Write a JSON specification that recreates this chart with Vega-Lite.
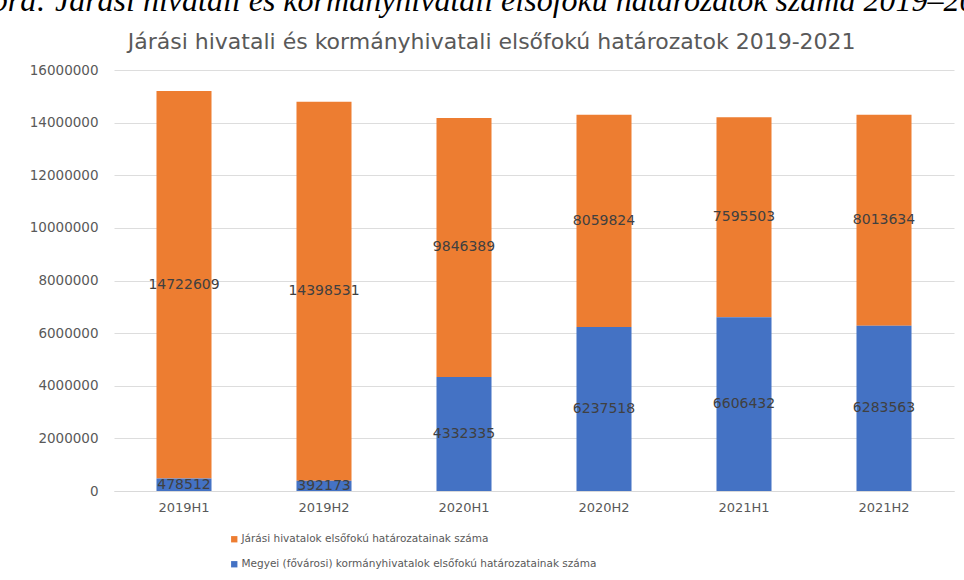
{
  "$schema": "https://vega.github.io/schema/vega-lite/v6.json",
  "width": 840,
  "height": 421,
  "autosize": {"type": "none"},
  "padding": {"left": 114, "top": 70, "right": 10, "bottom": 89},
  "background": "white",
  "config": {"view": {"stroke": null}},
  "title": {
    "text": "ábra: Járási hivatali és kormányhivatali elsőfokú határozatok száma 2019–2021",
    "subtitle": "Járási hivatali és kormányhivatali elsőfokú határozatok 2019-2021",
    "anchor": "middle",
    "frame": "bounds",
    "font": "Liberation Serif",
    "fontStyle": "italic",
    "fontWeight": "normal",
    "fontSize": 32,
    "color": "#000000",
    "subtitleFont": "DejaVu Sans",
    "subtitleFontSize": 22,
    "subtitleColor": "#595959",
    "subtitlePadding": 14,
    "offset": 9
  },
  "data": {
    "values": [
      {"period": "2019H1", "series": "Járási hivatalok elsőfokú határozatainak száma", "value": 14722609},
      {"period": "2019H1", "series": "Megyei (fővárosi) kormányhivatalok elsőfokú határozatainak száma", "value": 478512},
      {"period": "2019H2", "series": "Járási hivatalok elsőfokú határozatainak száma", "value": 14398531},
      {"period": "2019H2", "series": "Megyei (fővárosi) kormányhivatalok elsőfokú határozatainak száma", "value": 392173},
      {"period": "2020H1", "series": "Járási hivatalok elsőfokú határozatainak száma", "value": 9846389},
      {"period": "2020H1", "series": "Megyei (fővárosi) kormányhivatalok elsőfokú határozatainak száma", "value": 4332335},
      {"period": "2020H2", "series": "Járási hivatalok elsőfokú határozatainak száma", "value": 8059824},
      {"period": "2020H2", "series": "Megyei (fővárosi) kormányhivatalok elsőfokú határozatainak száma", "value": 6237518},
      {"period": "2021H1", "series": "Járási hivatalok elsőfokú határozatainak száma", "value": 7595503},
      {"period": "2021H1", "series": "Megyei (fővárosi) kormányhivatalok elsőfokú határozatainak száma", "value": 6606432},
      {"period": "2021H2", "series": "Járási hivatalok elsőfokú határozatainak száma", "value": 8013634},
      {"period": "2021H2", "series": "Megyei (fővárosi) kormányhivatalok elsőfokú határozatainak száma", "value": 6283563}
    ]
  },
  "encoding": {
    "x": {
      "field": "period",
      "type": "nominal",
      "sort": null,
      "scale": {"paddingInner": 0.607, "paddingOuter": 0.3035},
      "axis": {
        "title": null,
        "labelAngle": 0,
        "ticks": false,
        "domainColor": "#D9D9D9",
        "labelColor": "#595959",
        "labelFont": "DejaVu Sans",
        "labelFontSize": 13,
        "labelPadding": 10
      }
    }
  },
  "layer": [
    {
      "mark": {"type": "bar"},
      "encoding": {
        "y": {
          "field": "value",
          "type": "quantitative",
          "stack": "zero",
          "scale": {"domain": [0, 16000000], "nice": false},
          "axis": {
            "title": null,
            "values": [0, 2000000, 4000000, 6000000, 8000000, 10000000, 12000000, 14000000, 16000000],
            "format": "d",
            "ticks": false,
            "domain": false,
            "labelOverlap": false,
            "gridColor": "#DDDDDD",
            "labelColor": "#595959",
            "labelFont": "DejaVu Sans",
            "labelFontSize": 13.5,
            "labelPadding": 16
          }
        },
        "color": {
          "field": "series",
          "type": "nominal",
          "scale": {
            "domain": ["Járási hivatalok elsőfokú határozatainak száma", "Megyei (fővárosi) kormányhivatalok elsőfokú határozatainak száma"],
            "range": ["#ED7D31", "#4472C4"]
          },
          "legend": {
            "title": null,
            "orient": "none",
            "legendX": 115,
            "legendY": 464,
            "direction": "vertical",
            "symbolType": "square",
            "symbolSize": 40,
            "symbolStrokeWidth": 0,
            "labelFont": "DejaVu Sans",
            "labelFontSize": 10.5,
            "labelColor": "#595959",
            "labelOffset": 2,
            "rowPadding": 14,
            "padding": 0,
            "labelLimit": 600
          }
        },
        "order": {"field": "series", "sort": "descending"}
      }
    },
    {
      "transform": [
        {
          "window": [{"op": "sum", "field": "value", "as": "cum"}],
          "groupby": ["period"],
          "sort": [{"field": "series", "order": "descending"}],
          "frame": [null, 0]
        },
        {"calculate": "datum.cum - datum.value / 2", "as": "mid"}
      ],
      "mark": {"type": "text", "font": "DejaVu Sans", "fontSize": 14, "color": "#404040"},
      "encoding": {
        "y": {
          "field": "mid",
          "type": "quantitative",
          "axis": {
            "title": null,
            "values": [0, 2000000, 4000000, 6000000, 8000000, 10000000, 12000000, 14000000, 16000000],
            "format": "d",
            "ticks": false,
            "domain": false,
            "labelOverlap": false,
            "gridColor": "#DDDDDD",
            "labelColor": "#595959",
            "labelFont": "DejaVu Sans",
            "labelFontSize": 13.5,
            "labelPadding": 16
          }
        },
        "text": {"field": "value", "type": "quantitative", "format": "d"}
      }
    }
  ]
}
